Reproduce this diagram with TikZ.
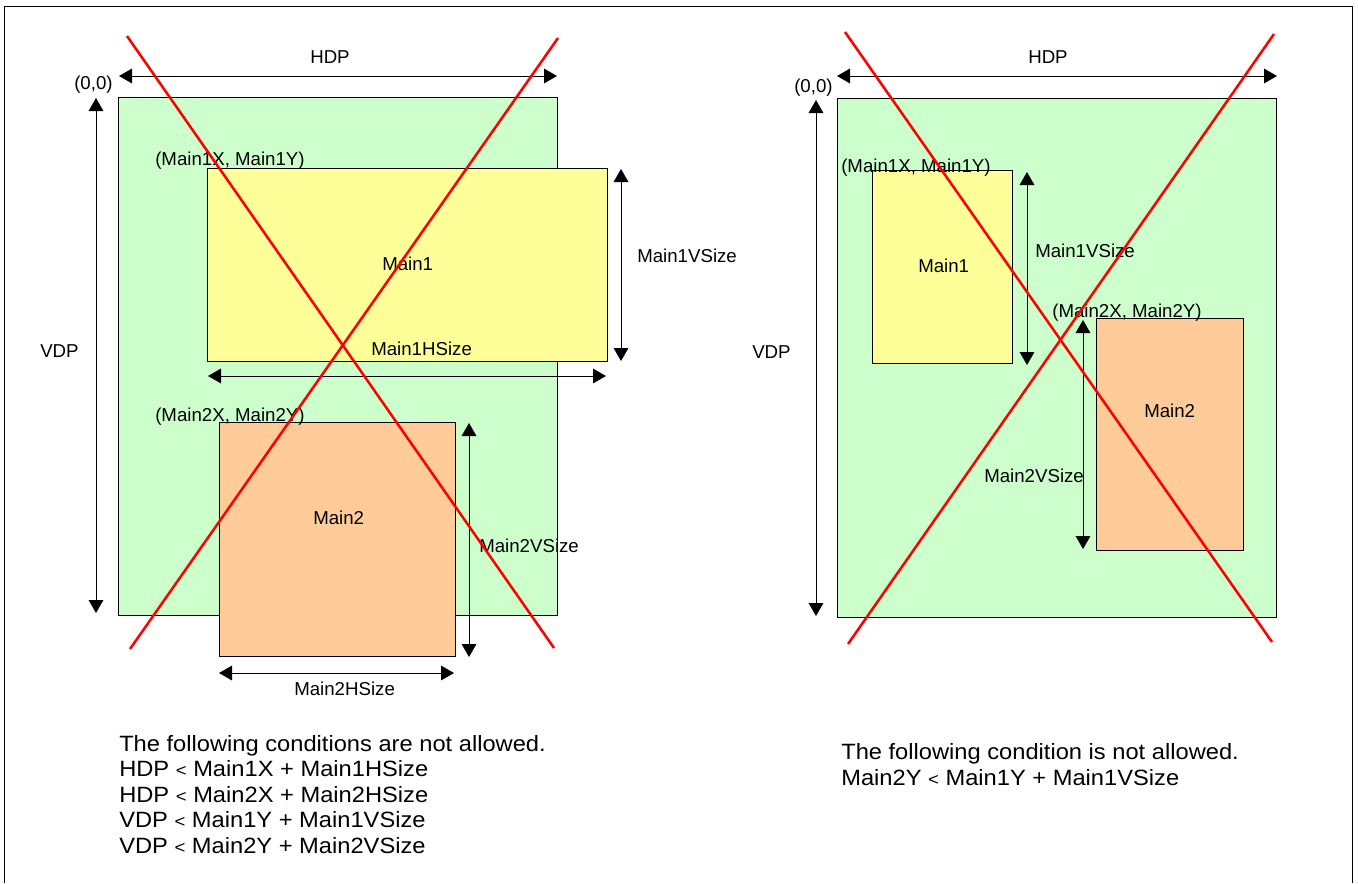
\documentclass[tikz,border=0pt]{standalone}
\usepackage{fontspec}
\setmainfont{Liberation Sans}
\newfontfamily\notefont[FakeStretch=1.07]{Liberation Sans}
\usetikzlibrary{arrows.meta,fit}

\definecolor{areagreen}{HTML}{CCFFCC}
\definecolor{mainyellow}{HTML}{FFFF99}
\definecolor{mainorange}{HTML}{FFCC99}
\definecolor{crossred}{HTML}{FF0000}

\begin{document}
\begin{tikzpicture}[x=0.75pt,y=-0.75pt,
  area/.style={draw=black,line width=0.75pt,inner sep=0pt,fill=areagreen},
  win1/.style={draw=black,line width=0.75pt,inner sep=0pt,fill=mainyellow},
  win2/.style={draw=black,line width=0.75pt,inner sep=0pt,fill=mainorange},
  lbl/.style={inner sep=0pt,anchor=base west,font=\fontsize{14}{14}\selectfont},
  note/.style={inner sep=0pt,anchor=base west,align=left,
    font=\notefont\fontsize{16.6}{19.1}\selectfont},
  dim/.style={line width=0.75pt,{Triangle[length=9.75pt,width=11pt]}-{Triangle[length=9.75pt,width=11pt]}},
  cross/.style={crossred,line width=1.9pt}]

\useasboundingbox (0,0) rectangle (1358,883);

% outer frame (open at the bottom)
\draw[line width=0.75pt] (4.5,883) -- (4.5,6) -- (1352,6) -- (1352,883);

%% ---------------- left panel ----------------
\node[area,fit={(118,97) (557,615)}] (g1) {};
\node[win1,fit={(207,168) (607,361)}] (y1) {};
\node[win2,fit={(219,422) (455,656)}] (o1) {};

\coordinate (h1a) at (119,76);  \coordinate (h1b) at (557,76);
\coordinate (v1a) at (96,98);   \coordinate (v1b) at (96,613);
\coordinate (m1va) at (621,169); \coordinate (m1vb) at (621,361);
\coordinate (m1ha) at (208,376); \coordinate (m1hb) at (606,376);
\coordinate (m2va) at (469,423); \coordinate (m2vb) at (469,657);
\coordinate (m2ha) at (219,673); \coordinate (m2hb) at (454,673);

\draw[dim] (h1a) -- (h1b);
\draw[dim] (v1a) -- (v1b);
\draw[dim] (m1va) -- (m1vb);
\draw[dim] (m1ha) -- (m1hb);
\draw[dim] (m2va) -- (m2vb);
\draw[dim] (m2ha) -- (m2hb);

\node[lbl] (t1hdp) at (310,63) {HDP};
\node[lbl] (t1org) at (74,89) {(0,0)};
\node[lbl] (t1vdp) at (40,357) {VDP};
\node[lbl] (t1p1) at (155,165) {(Main1X, Main1Y)};
\node[lbl] (t1m1) at (382,270) {Main1};
\node[lbl] (t1m1v) at (637,262) {Main1VSize};
\node[lbl] (t1m1h) at (371,355) {Main1HSize};
\node[lbl] (t1p2) at (155,421) {(Main2X, Main2Y)};
\node[lbl] (t1m2) at (313,524) {Main2};
\node[lbl] (t1m2v) at (479,552) {Main2VSize};
\node[lbl] (t1m2h) at (294,695) {Main2HSize};

\coordinate (x1a) at (127,36);  \coordinate (x1b) at (554,648);
\coordinate (x1c) at (558,38);  \coordinate (x1d) at (130,649);
\draw[cross] (x1a) -- (x1b);
\draw[cross] (x1c) -- (x1d);

% the base of a multi-line node is the baseline of its last line
\node[note] (n1) at (119,853) {The following conditions are not allowed.\\
HDP {\fontsize{13}{13}\selectfont<} Main1X + Main1HSize\\
HDP {\fontsize{13}{13}\selectfont<} Main2X + Main2HSize\\
VDP {\fontsize{13}{13}\selectfont<} Main1Y + Main1VSize\\
VDP {\fontsize{13}{13}\selectfont<} Main2Y + Main2VSize};

%% ---------------- right panel ----------------
\node[area,fit={(837,98) (1276,617)}] (g2) {};
\node[win1,fit={(872,170) (1012,363)}] (y2) {};
\node[win2,fit={(1096,318) (1243,550)}] (o2) {};

\coordinate (h2a) at (837,76);  \coordinate (h2b) at (1277,76);
\coordinate (v2a) at (816,100); \coordinate (v2b) at (816,616);
\coordinate (n1va) at (1027,172); \coordinate (n1vb) at (1027,365);
\coordinate (n2va) at (1083,320); \coordinate (n2vb) at (1083,549);

\draw[dim] (h2a) -- (h2b);
\draw[dim] (v2a) -- (v2b);
\draw[dim] (n1va) -- (n1vb);
\draw[dim] (n2va) -- (n2vb);

\node[lbl] (t2hdp) at (1028,63) {HDP};
\node[lbl] (t2org) at (794,92) {(0,0)};
\node[lbl] (t2vdp) at (752,358) {VDP};
\node[lbl] (t2p1) at (841,172) {(Main1X, Main1Y)};
\node[lbl] (t2m1) at (918,272) {Main1};
\node[lbl] (t2m1v) at (1035,257) {Main1VSize};
\node[lbl] (t2p2) at (1052,317) {(Main2X, Main2Y)};
\node[lbl] (t2m2) at (1144,417) {Main2};
\node[lbl] (t2m2v) at (984,482) {Main2VSize};

\coordinate (x2a) at (845,32);  \coordinate (x2b) at (1272,642);
\coordinate (x2c) at (1274,34); \coordinate (x2d) at (848,644);
\draw[cross] (x2a) -- (x2b);
\draw[cross] (x2c) -- (x2d);

\node[note] (n2) at (841,785) {The following condition is not allowed.\\
Main2Y {\fontsize{13}{13}\selectfont<} Main1Y + Main1VSize};

\end{tikzpicture}
\end{document}
